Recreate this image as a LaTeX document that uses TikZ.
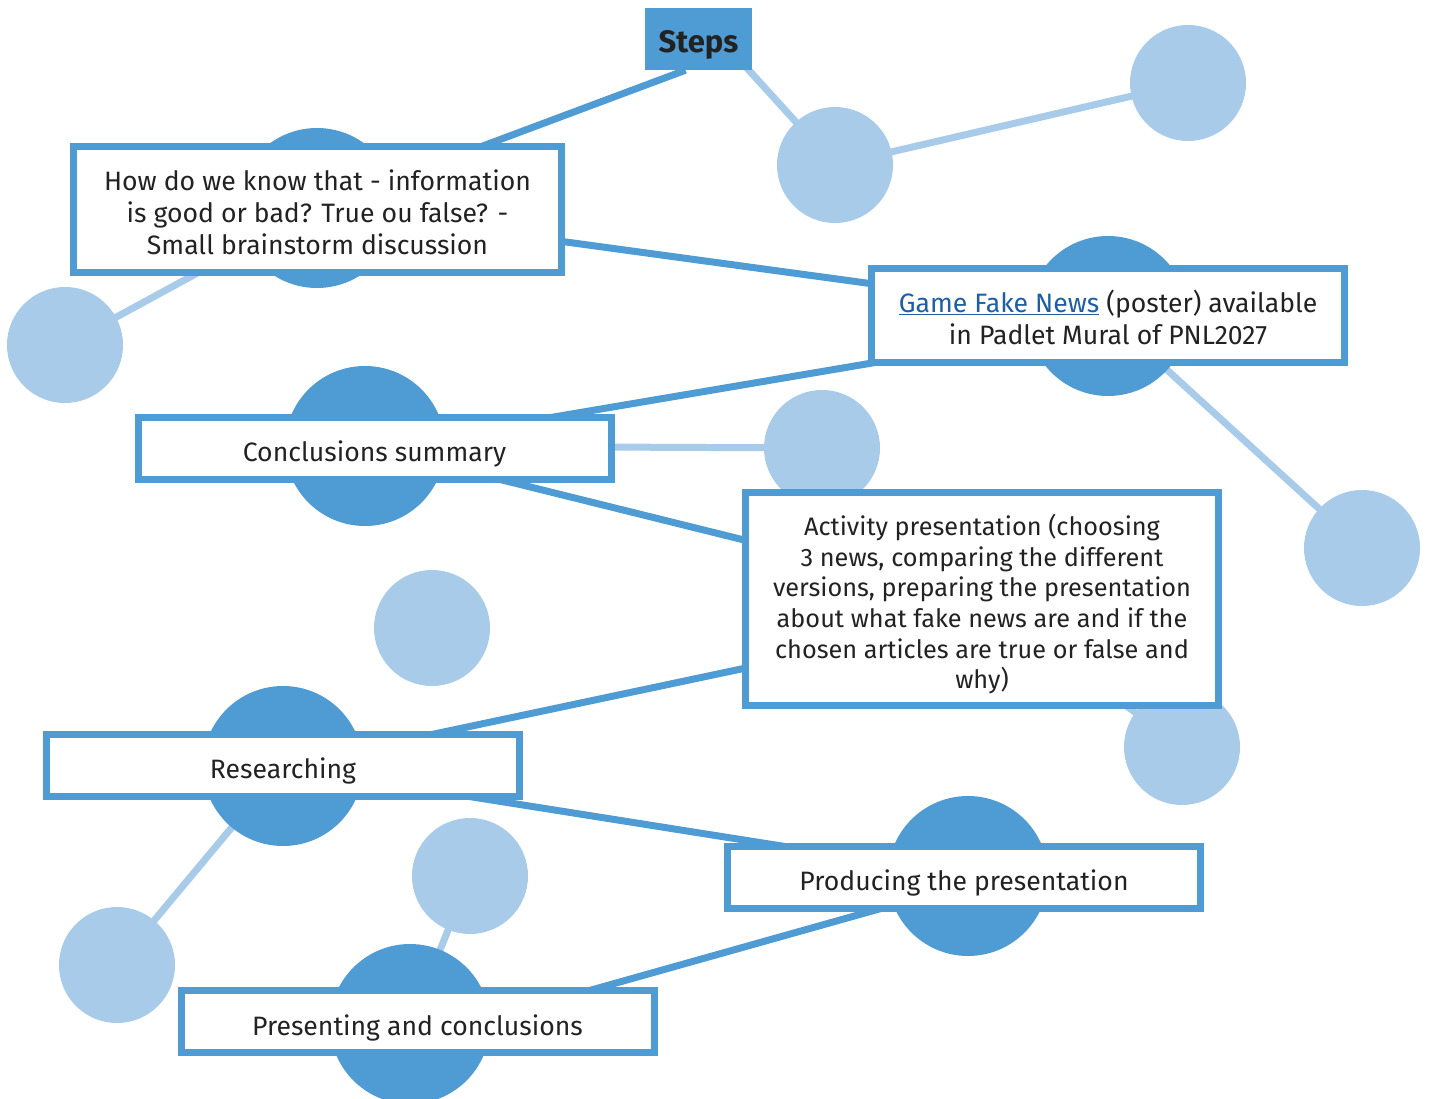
\documentclass[tikz,border=0pt]{standalone}
\usepackage{fontspec}
\setmainfont{Fira Sans}
\usetikzlibrary{backgrounds}
\definecolor{mapdark}{HTML}{4F9CD4}
\definecolor{maplight}{HTML}{A8CBE9}
\definecolor{linkblue}{HTML}{1E5FA3}
\definecolor{ink}{HTML}{222222}
% lower a box's contents by #1 inside a vertically centred node
\newcommand{\sinkby}[2]{\raisebox{0pt}[\dimexpr\height+#1+#1\relax][\depth]{#2}}
\begin{document}
\begin{tikzpicture}[x=1pt,y=-1pt,
  hub/.style={circle, fill=mapdark, minimum size=160pt, inner sep=0pt},
  leaf/.style={circle, fill=maplight, minimum size=116pt, inner sep=0pt},
  strong/.style={draw=mapdark, line width=7pt},
  weak/.style={draw=maplight, line width=7pt},
  card/.style={draw=mapdark, line width=7pt, fill=white, text=ink, align=center,
    font=\fontsize{26.6}{32}\selectfont, inner sep=0pt, minimum width=473pt, minimum height=62pt},
  title/.style={fill=mapdark, text=ink, font=\bfseries\fontsize{31}{36}\selectfont,
    inner sep=0pt, minimum width=107pt, minimum height=62pt},
]
\useasboundingbox (0,0) rectangle (1429,1099);

% main circles behind each step
\node[hub] (cHow)  at (317,208) {};
\node[hub] (cGame) at (1108,316) {};
\node[hub] (cConc) at (365,446) {};
\node[hub] (cAct)  at (982,599) {};
\node[hub] (cRes)  at (283,766) {};
\node[hub] (cProd) at (968,876) {};
\node[hub] (cPres) at (410,1024) {};

% small satellite circles
\node[leaf] (l1) at (835,165) {};
\node[leaf] (l2) at (1188,83) {};
\node[leaf] (l3) at (65,345) {};
\node[leaf] (l4) at (822,448) {};
\node[leaf] (l5) at (1362,548) {};
\node[leaf] (l6) at (432,628) {};
\node[leaf] (l7) at (1182,747) {};
\node[leaf] (l8) at (117,965) {};
\node[leaf] (l9) at (470,876) {};

% step boxes
\node[title] (Steps) at (698.5,39) {\sinkby{6pt}{Steps}};
\node[card, minimum width=488pt, minimum height=126pt] (How) at (317.5,209.5)
  {\sinkby{7pt}{\begin{tabular}{@{}c@{}}How do we know that - information\\is good or bad? True ou false? -\\Small brainstorm discussion\end{tabular}}};
\node[card, minimum height=94pt] (Game) at (1108,315.5)
  {\sinkby{7pt}{\begin{tabular}{@{}c@{}}{\color{linkblue}\underline{Game Fake News}} (poster) available\\in Padlet Mural of PNL2027\end{tabular}}};
\node[card] (Conc) at (374.5,448) {\sinkby{6pt}{Conclusions summary}};
\node[card, minimum height=213pt, font=\fontsize{25.3}{30.6}\selectfont] (Act) at (982,599)
  {\sinkby{7pt}{\begin{tabular}{@{}c@{}}Activity presentation (choosing\\3 news, comparing the different\\versions, preparing the presentation\\about what fake news are and if the\\chosen articles are true or false and\\why)\end{tabular}}};
\node[card] (Res) at (283,765.5) {\sinkby{5pt}{Researching}};
\node[card] (Prod) at (964,877.5) {\sinkby{5pt}{Producing the presentation}};
\node[card] (Pres) at (417.5,1021.5) {\sinkby{6pt}{Presenting and conclusions}};

% connectors, kept behind circles and boxes
\begin{pgfonlayer}{background}
  \coordinate (stepsFoot) at ([xshift=-13pt]Steps.south);
  \coordinate (stepsSide) at ([xshift=22pt]Steps.center);
  \draw[strong] (stepsFoot) -- (cHow.center);
  \draw[weak] (stepsSide) -- (l1.center);
  \draw[weak] (l1.center) -- (l2.center);
  \draw[weak] (cHow.center) -- (l3.center);
  \draw[strong] (cHow.center) -- (cGame.center);
  \draw[strong] ([yshift=-7pt]cGame.center) -- ([yshift=-3pt]cConc.center);
  \draw[weak] (cGame.center) -- (l5.center);
  \draw[weak] (cConc.center) -- (l4.center);
  \draw[strong] (cConc.center) -- (cAct.center);
  \draw[weak] (cAct.center) -- (l7.center);
  \draw[strong] ([yshift=-19pt]cAct.center) -- (cRes.center);
  \draw[weak] (cRes.center) -- (l8.center);
  \draw[strong] ([yshift=-1pt]cRes.center) -- ([yshift=0.5pt]cProd.center);
  \draw[strong] ([yshift=-8pt]cProd.center) -- ([yshift=-17pt]cPres.center);
  \draw[weak] (cPres.center) -- (l9.center);
\end{pgfonlayer}
\end{tikzpicture}
\end{document}
